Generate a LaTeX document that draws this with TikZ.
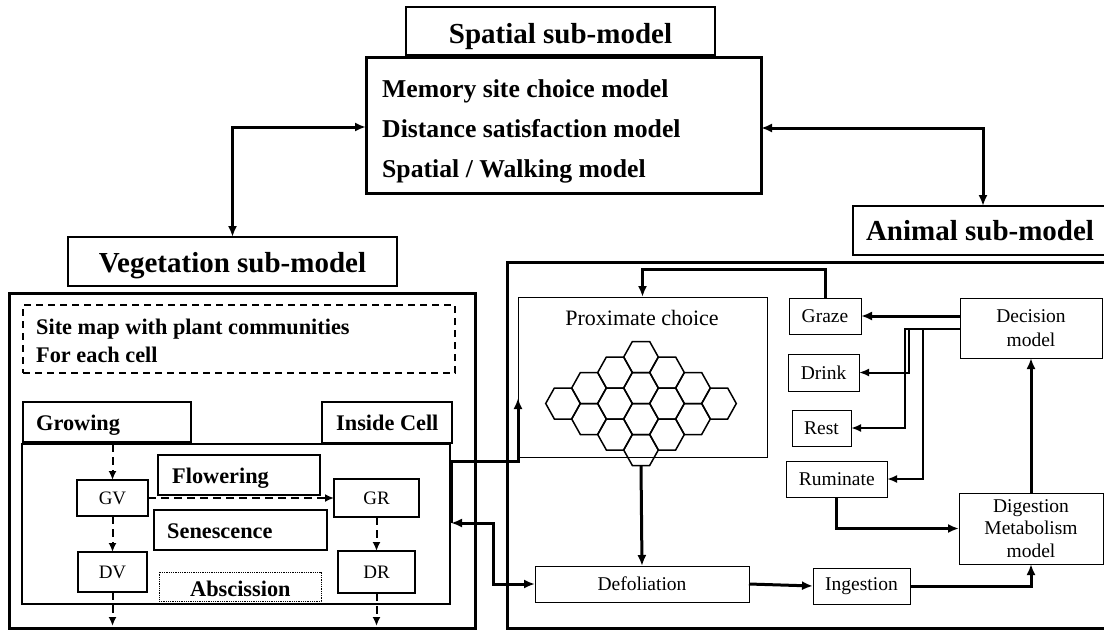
\documentclass[tikz,border=0pt]{standalone}
\usepackage{fontspec}
\setmainfont{Liberation Serif}
\usetikzlibrary{arrows.meta,calc}
\begin{document}
\begin{tikzpicture}[x=1pt,y=-1pt,
  box/.style={draw, line width=1pt, inner sep=0pt, outer sep=0pt, align=center, font=\fontsize{19.5}{23}\selectfont},
  vbox/.style={draw, line width=1.3pt, inner sep=0pt, outer sep=0pt, align=center, font=\fontsize{19}{23}\selectfont},
  hdr/.style={font=\fontsize{29}{34}\selectfont\bfseries, inner sep=0pt},
  sptext/.style={font=\fontsize{25.7}{30}\selectfont\bfseries, inner sep=0pt},
  vlab/.style={font=\fontsize{22.3}{26}\selectfont\bfseries, inner sep=0pt},
  conn/.style={line width=3pt, -{Latex[length=11pt,width=9pt]}},
  bconn/.style={line width=3pt, {Latex[length=11pt,width=9pt]}-{Latex[length=11pt,width=9pt]}},
  tconn/.style={line width=2pt, -{Latex[length=10pt,width=8pt]}},
  dconn/.style={line width=2pt, dash pattern=on 8pt off 5pt, -{Latex[length=9pt,width=8pt]}},
  hex/.style={line width=1.5pt, line join=miter}
]
\useasboundingbox (0,0) rectangle (1104,630);

% ---------------- Spatial sub-model
\node[box, line width=3pt, minimum width=395pt, minimum height=136pt] (spmain) at (563.5,125) {};
\node[box, line width=2pt, fill=white, minimum width=309pt, minimum height=48pt] (sphead) at (560.5,31) {};
\node[hdr, anchor=base] (sptitle) at (560.5,43) {Spatial sub-model};
\node[sptext, anchor=base west] (sp1) at (382,97) {Memory site choice model};
\node[sptext, anchor=base west] (sp2) at (382,137) {Distance satisfaction model};
\node[sptext, anchor=base west] (sp3) at (382,177) {Spatial / Walking model};

% ---------------- Vegetation sub-model
\node[box, line width=2.5pt, minimum width=329pt, minimum height=49pt] (veghead) at (232.5,261.5) {};
\node[hdr, anchor=base] (vegtitle) at (232.5,272) {Vegetation sub-model};
\node[box, line width=3pt, minimum width=466pt, minimum height=335pt] (vegout) at (242,460.5) {};
\node[draw, line width=1.8pt, dash pattern=on 7pt off 5pt, inner sep=0pt, minimum width=432pt, minimum height=68pt] (sitemap) at (239,339) {};
\node[vlab, anchor=base west] (site1) at (36,334) {Site map with plant communities};
\node[vlab, anchor=base west] (site2) at (36,362) {For each cell};

\node[vbox, minimum width=168pt, minimum height=40pt] (growbox) at (107,422) {};
\node[vlab, anchor=base west] (growtxt) at (36,430) {Growing};
\node[vbox, line width=2pt, minimum width=130pt, minimum height=41pt] (cellbox) at (387,422.5) {};
\node[vlab, anchor=base west] (celltxt) at (336,430) {Inside Cell};
\node[vbox, line width=2pt, minimum width=428pt, minimum height=160pt] (inner) at (236,524) {};

\node[vbox, minimum width=162pt, minimum height=40pt] (flowbox) at (239,475) {};
\node[vlab, anchor=base west] (flowtxt) at (172,483) {Flowering};
\node[vbox, minimum width=173pt, minimum height=40pt] (senbox) at (240.5,530) {};
\node[vlab, anchor=base west] (sentxt) at (167,538) {Senescence};
\node[draw, line width=0.8pt, densely dotted, inner sep=0pt, minimum width=162pt, minimum height=29pt] (absbox) at (240,586.5) {};
\node[vlab, anchor=base west] (abstxt) at (190,596) {Abscission};

\node[vbox, minimum width=71pt, minimum height=36pt] (GV) at (112.5,498) {GV};
\node[vbox, minimum width=85pt, minimum height=38pt] (GR) at (376.5,498) {GR};
\node[vbox, minimum width=69pt, minimum height=40pt] (DV) at (112.5,572) {DV};
\node[vbox, minimum width=77pt, minimum height=42pt] (DR) at (376.5,572) {DR};

\draw[dconn] (GV.north |- inner.north) -- (GV.north);
\draw[dconn] (GV.south) -- (DV.north);
\draw[dconn] (GV.east) -- (GR.west);
\draw[dconn] (GR.south) -- (DR.north);
\coordinate (dvout) at (112.5,626);
\coordinate (drout) at (376.5,626);
\draw[dconn] (DV.south) -- (dvout);
\draw[dconn] (DR.south) -- (drout);

% ---------------- Animal sub-model
\draw[line width=2pt] (1106,206) -- (853,206) -- (853,255) -- (1106,255);
\coordinate (animtop) at (983,206);
\node[hdr, anchor=base] (animtitle) at (980,240) {Animal sub-model};
\draw[line width=3pt] (1106,262) -- (507,262) -- (507,628) -- (1106,628);

\node[box, minimum width=249pt, minimum height=160pt] (prox) at (642.5,377) {};
\node[font=\fontsize{22}{26}\selectfont, anchor=base, inner sep=0pt] (proxtxt) at (642,325) {Proximate choice};

\foreach \k/\n in {-3/1,-2/2,-1/3,0/4,1/3,2/2,3/1} {
  \pgfmathsetmacro\cx{641+26*\k}
  \foreach \j in {1,...,\n} {
    \pgfmathsetmacro\cy{403.5+31*(\j-1-(\n-1)/2)}
    \draw[hex] (\cx+17.3,\cy) -- (\cx+8.65,\cy+15.5) -- (\cx-8.65,\cy+15.5) -- (\cx-17.3,\cy) -- (\cx-8.65,\cy-15.5) -- (\cx+8.65,\cy-15.5) -- cycle;
  }
}
\coordinate (hexbot) at (641,465.5);

\node[box, minimum width=72pt, minimum height=36pt] (graze) at (825,316) {Graze};
\node[box, minimum width=71pt, minimum height=37pt] (drink) at (823.5,372.5) {Drink};
\node[box, minimum width=59pt, minimum height=36pt] (rest) at (821.5,428) {Rest};
\node[box, minimum width=100.5pt, minimum height=36pt] (rumin) at (836.75,479) {Ruminate};
\node[box, minimum width=142pt, minimum height=60pt, font=\fontsize{19.5}{24}\selectfont] (decision) at (1031,328) {Decision\\model};
\node[box, minimum width=144pt, minimum height=71pt, font=\fontsize{19.5}{22.5}\selectfont] (digest) at (1031,528.5) {Digestion\\Metabolism\\model};
\node[box, minimum width=214pt, minimum height=36pt] (defol) at (642,584) {Defoliation};
\node[box, minimum width=97pt, minimum height=36pt] (ingest) at (861.5,586) {Ingestion};

% ---------------- connectors
\coordinate (spl) at (366,127);
\coordinate (spr) at (761,128);
\draw[bconn] (veghead.north) |- (spl);
\draw[bconn] (spr) -| (animtop);

\coordinate (cellA) at (451,523);
\coordinate (cellB) at (451,461);
\coordinate (proxin) at (518,398);
\draw[conn] (cellA) -- (cellB) -| (proxin);
\coordinate (defbend) at (493,523);
\draw[bconn] (cellA) -- (defbend) |- (defol.west);

\coordinate (loopTop) at (825,269);
\draw[conn] (graze.north) -- (loopTop) -| (prox.north);
\draw[conn] (hexbot) -- (defol.north);
\draw[conn] (defol.east) -- (ingest.west);
\draw[conn] (ingest.east) -| (digest.south);
\draw[conn] (digest.north) -- (decision.south);
\draw[conn] (rumin.south) |- (digest.west);

\draw[conn] (decision.west |- graze.east) -- (graze.east);
\coordinate (dsplit) at (960,329);
\coordinate (drinkv) at (909,329);
\coordinate (restv) at (905,329);
\coordinate (rumv) at (923,329);
\draw[tconn] (dsplit) -- (drinkv) |- (drink.east);
\draw[tconn] (dsplit) -- (restv) |- (rest.east);
\draw[tconn] (dsplit) -- (rumv) |- (rumin.east);
\end{tikzpicture}
\end{document}
